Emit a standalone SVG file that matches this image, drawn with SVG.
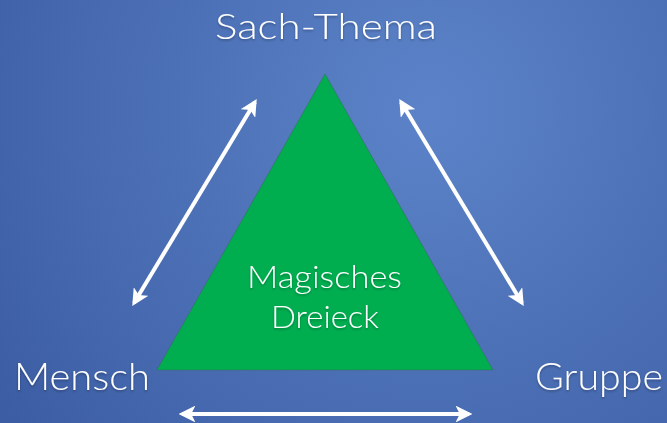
<svg xmlns="http://www.w3.org/2000/svg" width="667" height="423" viewBox="0 0 667 423">
<defs>
<radialGradient id="bg" cx="430" cy="110" r="520" gradientUnits="userSpaceOnUse">
<stop offset="0" stop-color="#5c83c9"/>
<stop offset="1" stop-color="#3c5da3"/>
</radialGradient>
<marker id="ah" viewBox="0 0 10 10" refX="8" refY="5" markerWidth="4.2" markerHeight="4.2" orient="auto-start-reverse" markerUnits="strokeWidth">
<path d="M0,0 L10,5 L0,10 L2.5,5 Z" fill="#ffffff"/>
</marker>
<filter id="sh" x="-10%" y="-10%" width="120%" height="130%">
<feDropShadow dx="0" dy="1.5" stdDeviation="1" flood-color="#000" flood-opacity="0.3"/>
</filter>
</defs>
<style>
.lbl{font-family:"Lato","Open Sans","Liberation Sans",sans-serif;font-weight:300;fill:#ffffff;filter:url(#sh);}
.con{stroke:#ffffff;stroke-width:4;fill:none;marker-start:url(#ah);marker-end:url(#ah);}
</style>
<rect x="0" y="0" width="667" height="423" fill="url(#bg)"/>
<g id="connectors">
<line class="con" x1="134" y1="303" x2="255" y2="102"/>
<line class="con" x1="401" y1="102" x2="522" y2="303"/>
<line class="con" x1="182" y1="414" x2="469" y2="414"/>
</g>
<g id="triangle">
<polygon points="325,74 157,370 493,370" fill="#00ae50" stroke="#3a6a5a" stroke-width="0.5"/>
<text class="lbl" x="247" y="288" font-size="32" textLength="155" lengthAdjust="spacingAndGlyphs">Magisches</text>
<text class="lbl" x="271" y="328" font-size="32" textLength="108" lengthAdjust="spacingAndGlyphs">Dreieck</text>
</g>
<g id="sach-thema">
<text class="lbl" x="215" y="39" font-size="36" textLength="222" lengthAdjust="spacingAndGlyphs">Sach-Thema</text>
</g>
<g id="mensch">
<text class="lbl" x="14" y="390" font-size="37" textLength="136" lengthAdjust="spacingAndGlyphs">Mensch</text>
</g>
<g id="gruppe">
<text class="lbl" x="535" y="390" font-size="37" textLength="128" lengthAdjust="spacingAndGlyphs">Gruppe</text>
</g>
</svg>
